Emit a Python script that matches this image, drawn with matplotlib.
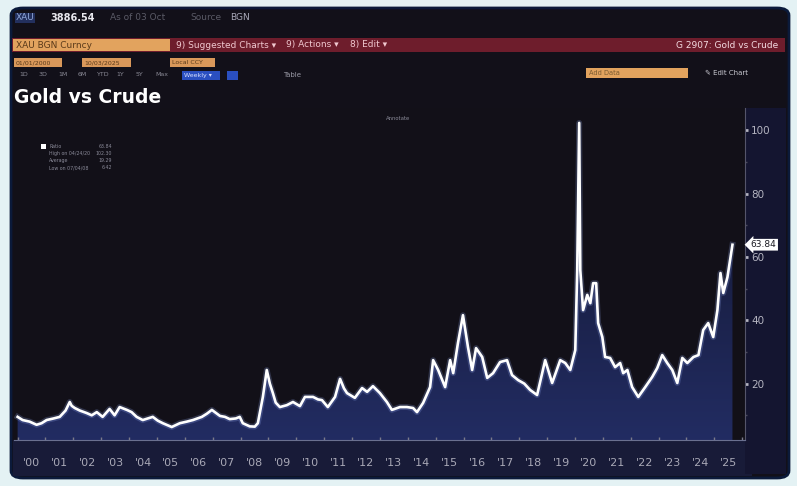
import matplotlib.pyplot as plt
import numpy as np
from matplotlib.patches import FancyBboxPatch, Rectangle
import matplotlib.transforms as mtransforms

# Gold / crude ratio (decimal year, ratio)
years = [
    2000.00, 2000.18, 2000.43, 2000.68, 2000.86, 2001.04, 2001.29, 2001.51, 2001.72, 2001.87,
    2001.94, 2002.05, 2002.23, 2002.48, 2002.66, 2002.84, 2003.05, 2003.30, 2003.48, 2003.66,
    2003.92, 2004.09, 2004.27, 2004.49, 2004.67, 2004.85, 2005.03, 2005.21, 2005.53, 2005.82,
    2006.07, 2006.29, 2006.61, 2006.79, 2006.97, 2007.26, 2007.44, 2007.61, 2007.83, 2007.97,
    2008.08, 2008.33, 2008.51, 2008.62, 2008.80, 2008.94, 2009.05, 2009.16, 2009.26, 2009.41,
    2009.66, 2009.88, 2010.13, 2010.31, 2010.60, 2010.78, 2010.92, 2011.13, 2011.39, 2011.57,
    2011.71, 2011.82, 2012.10, 2012.36, 2012.54, 2012.75, 2013.00, 2013.25, 2013.43, 2013.72,
    2013.97, 2014.19, 2014.33, 2014.55, 2014.73, 2014.80, 2014.91, 2015.09, 2015.34, 2015.52,
    2015.63, 2015.80, 2015.98, 2016.16, 2016.31, 2016.45, 2016.67, 2016.85, 2017.06, 2017.31,
    2017.56, 2017.74, 2017.96, 2018.18, 2018.39, 2018.64, 2018.93, 2019.18, 2019.47, 2019.65,
    2019.83, 2020.01, 2020.08, 2020.15, 2020.19, 2020.29, 2020.44, 2020.55, 2020.65, 2020.76,
    2020.83, 2020.98, 2021.08, 2021.26, 2021.44, 2021.62, 2021.73, 2021.88, 2022.05, 2022.27,
    2022.52, 2022.77, 2022.95, 2023.13, 2023.31, 2023.49, 2023.67, 2023.85, 2024.03, 2024.25,
    2024.43, 2024.60, 2024.78, 2024.96, 2025.11, 2025.22, 2025.32, 2025.47, 2025.58, 2025.65,
]
ratio = [
    9.5, 8.5, 8.0, 7.0, 7.5, 8.5, 9.0, 9.5, 11.5, 14.2,
    13.0, 12.3, 11.5, 10.7, 10.0, 11.0, 9.5, 12.0, 10.0, 12.6,
    11.7, 11.0, 9.5, 8.5, 9.0, 9.5, 8.3, 7.5, 6.3, 7.5,
    8.0, 8.5, 9.5, 10.5, 11.7, 9.8, 9.5, 8.8, 9.0, 9.5,
    7.5, 6.5, 6.42, 7.5, 15.8, 24.3, 20.0, 17.0, 14.0, 12.6,
    13.2, 14.2, 12.9, 15.8, 15.8, 15.0, 14.8, 12.6, 15.8, 21.5,
    18.5, 17.0, 15.5, 18.6, 17.4, 19.2, 17.0, 14.2, 11.7, 12.6,
    12.6, 12.3, 11.0, 13.9, 17.5, 18.9, 27.4, 24.3, 18.9, 27.4,
    23.3, 32.8, 41.6, 31.5, 24.3, 31.2, 28.4, 21.8, 23.3, 26.8,
    27.4, 22.7, 21.1, 20.0, 18.0, 16.4, 27.4, 20.2, 27.4, 26.5,
    24.3, 30.6, 55.8, 102.3, 55.8, 43.2, 48.0, 45.4, 51.7, 51.7,
    39.1, 34.7, 28.4, 28.1, 25.2, 26.5, 23.3, 24.3, 18.9, 15.8,
    18.9, 22.1, 24.9, 29.0, 26.5, 24.3, 20.2, 28.1, 26.5, 28.4,
    29.0, 36.9, 39.1, 34.7, 43.2, 54.9, 48.6, 53.6, 59.9, 63.84,
]
year_labels = ["'%02d" % y for y in range(0, 26)]
y_ticks = [20, 40, 60, 80, 100]
legend_rows = [("Ratio", "63.84"), ("High on 04/24/20", "102.30"),
               ("Average", "19.29"), ("Low on 07/04/08", "6.42")]

W, H = 797, 486


def fx(px):
    return px / W


def fy(py):
    return 1 - py / H


def box(x0, y0, x1, y1, color, z=0.5):
    fig.patches.append(Rectangle((fx(x0), fy(y1)), fx(x1 - x0), (y1 - y0) / H,
                                 transform=fig.transFigure, fc=color, ec="none", zorder=z))


fig = plt.figure(figsize=(W / 100, H / 100), dpi=100)
fig.patch.set_facecolor("#e4f2f4")

# terminal window
fig.patches.append(FancyBboxPatch((fx(11), fy(478)), fx(778), 470 / H,
                                  boxstyle="round,pad=0,rounding_size=0.015",
                                  transform=fig.transFigure, fc="#121019", ec="#0b1a3a", lw=2,
                                  zorder=0.1))
box(13, 440, 752, 476, "#181b38", z=0.2)
box(745, 108, 786, 474, "#141530", z=0.2)

# header rows
fig.text(fx(16), fy(18), "XAU", color="#8fa6d8", fontsize=6.5, va="center",
         bbox=dict(fc="#23305e", ec="none", pad=0.5))
fig.text(fx(50), fy(18), "3886.54", color="#e8e8ee", fontsize=7, va="center", fontweight="bold")
fig.text(fx(110), fy(18), "As of 03 Oct", color="#5a5a66", fontsize=6.5, va="center")
fig.text(fx(190), fy(18), "Source", color="#5a5a66", fontsize=6.5, va="center")
fig.text(fx(230), fy(18), "BGN", color="#a8a8b8", fontsize=6.5, va="center")

box(12, 38, 785, 52, "#6e1d2c")
box(13, 39, 170, 51, "#e2a35e")
fig.text(fx(16), fy(45), "XAU BGN Curncy", color="#5a3a1a", fontsize=6.5, va="center")
fig.text(fx(176), fy(45), "9) Suggested Charts \u25be", color="#f0c8d0", fontsize=6.5, va="center")
fig.text(fx(286), fy(45), "9) Actions \u25be", color="#f0c8d0", fontsize=6.5, va="center")
fig.text(fx(350), fy(45), "8) Edit \u25be", color="#f0c8d0", fontsize=6.5, va="center")
fig.text(fx(778), fy(45), "G 2907: Gold vs Crude", color="#f4dce2", fontsize=6.5, va="center",
         ha="right")

for x0, x1, t in [(14, 62, "01/01/2000"), (82, 131, "10/03/2025"), (170, 215, "Local CCY")]:
    box(x0, 58, x1, 67, "#d9985a")
    fig.text(fx(x0 + 2), fy(62.5), t, color="#5a3a1a", fontsize=4.5, va="center")
box(586, 68, 688, 78, "#e2a35e")
fig.text(fx(589), fy(73), "Add Data", color="#7a5a30", fontsize=4.8, va="center")
fig.text(fx(705), fy(73), "\u270e Edit Chart", color="#c8c8d0", fontsize=5, va="center")

periods = ["1D", "3D", "1M", "6M", "YTD", "1Y", "5Y", "Max"]
for i, p in enumerate(periods):
    fig.text(fx(19 + i * 19.5), fy(75), p, color="#8a8a96", fontsize=4.5, va="center")
box(182, 71, 220, 80, "#2a4fc0")
fig.text(fx(184), fy(75.5), "Weekly \u25be", color="#d8e0ff", fontsize=4.5, va="center")
box(227, 71, 238, 80, "#2a4fc0")
fig.text(fx(283), fy(75), "Table", color="#9a9aa6", fontsize=5, va="center")

fig.text(fx(14), fy(97), "Gold vs Crude", color="white", fontsize=13.5, fontweight="bold",
         va="center")

# chart
ax = fig.add_axes([fx(14), fy(440), fx(731), (440 - 108) / H])
ax.set_zorder(2)
ax.set_facecolor("#121018")
ymin, ymax = 2.2, 107
x = np.array(years)
y = np.array(ratio)

fill = ax.fill_between(x, ymin, y, color="none", lw=0)
grad = np.linspace(0, 1, 256).reshape(-1, 1)
im = ax.imshow(grad, extent=[1999.8, 2026.2, ymin, 75], aspect="auto", origin="upper",
               cmap=plt.matplotlib.colors.LinearSegmentedColormap.from_list(
                   "navy", ["#161b3a", "#222c62"]), zorder=1)
im.set_clip_path(fill.get_paths()[0], ax.transData)

ax.plot(x, y, color="#9fb6ff", lw=4.2, alpha=0.22, zorder=2, solid_joinstyle="round")
ax.plot(x, y, color="white", lw=1.9, zorder=3, solid_joinstyle="round")

ax.set_xlim(1999.87, 2026.1)
ax.set_ylim(ymin, ymax)

ax.set_xticks(np.arange(2000, 2026) + 0.5)
ax.set_xticklabels(year_labels)
ax.set_xticks(np.arange(2000, 2027), minor=True)
ax.tick_params(axis="x", which="major", length=0, pad=13, labelsize=8, colors="#a8a8b6")
ax.tick_params(axis="x", which="minor", length=2, width=1, color="#7a7a8a", direction="in")

ax.yaxis.tick_right()
ax.set_yticks(y_ticks)
ax.set_yticks(np.arange(10, 106, 10), minor=True)
ax.tick_params(axis="y", which="major", length=2.5, width=2, pad=2, labelsize=7.5,
               colors="#b4b4c0", direction="out")
ax.tick_params(axis="y", which="minor", length=1.5, width=1, color="#4a4a5c", direction="out")

for side in ["top", "left"]:
    ax.spines[side].set_visible(False)
ax.spines["right"].set_color("#55556a")
ax.spines["bottom"].set_color("#6a7090")

# last value tag
trans = mtransforms.blended_transform_factory(ax.transAxes, ax.transData)
ax.text(1.008, ratio[-1], "63.84", transform=trans, fontsize=6.5, color="#1a1a22",
        va="center", ha="left",
        bbox=dict(boxstyle="larrow,pad=0.15", fc="white", ec="none"), zorder=5)

# legend block
box(41, 144, 46, 149, "white", z=3)
for i, (name, val) in enumerate(legend_rows):
    yy = fy(146.5 + i * 7)
    fig.text(fx(49), yy, name, color="#8a8a98", fontsize=3.4, va="center", zorder=3)
    fig.text(fx(112), yy, val, color="#8a8a98", fontsize=3.4, va="center", ha="right", zorder=3)

fig.text(fx(386), fy(118), "Annotate", color="#8a8a98", fontsize=3.8, va="center", zorder=3)

fig.savefig("out.png", dpi=100, facecolor=fig.get_facecolor())
